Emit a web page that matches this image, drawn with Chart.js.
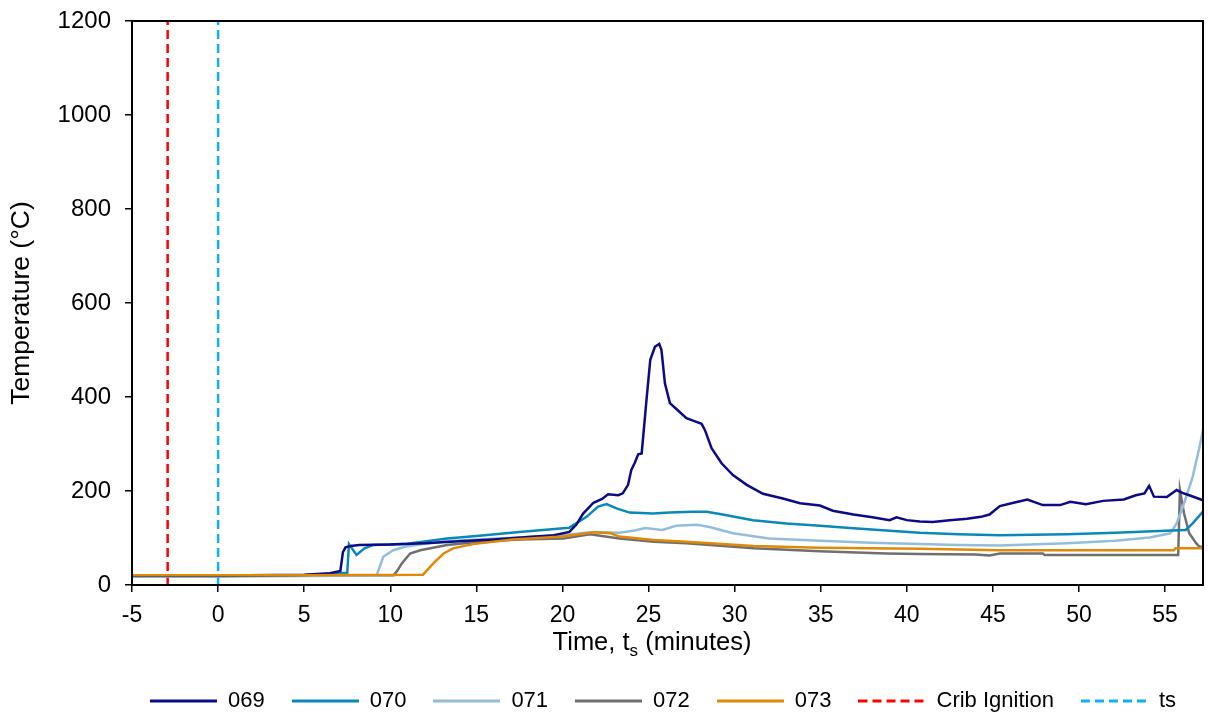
<!DOCTYPE html>
<html lang="en">
<head>
<meta charset="UTF-8">
<title>Temperature vs Time</title>
<script src="https://cdn.jsdelivr.net/npm/chart.js"></script>
<style>
    html, body { margin: 0; padding: 0; background: #fff; }
    #wrap { width: 1208px; height: 717px; }
</style>
</head>
<body>
<div id="wrap"><canvas id="temp-chart"></canvas></div>
<script>
    // [time (min), temperature (°C)], one list per thermocouple
    const tc069 = [[-5,20],[0,20],[5,22],[6.5,25],[7.1,30],[7.25,70],[7.4,80],[7.7,83],[8.2,85],[10,86],[12,89],[14,93],[16,97],[18,102],[19.5,106],[20.4,113],[20.8,128],[21.2,152],[21.8,175],[22.3,183],[22.65,193],[23.24,191],[23.5,195],[23.81,213],[24.0,245],[24.2,260],[24.4,278],[24.6,280],[24.88,394],[25.1,479],[25.37,507],[25.62,513],[25.75,500],[25.95,429],[26.24,387],[26.63,374],[27.2,355],[27.7,348],[28.08,343],[28.27,330],[28.66,291],[29.24,259],[29.9,234],[30.7,213],[31.65,194],[32.8,184],[33.8,174],[34.95,169],[35.7,158],[36.9,150],[38.0,144],[39.0,138],[39.4,144],[40.0,138],[40.75,135],[41.5,134],[42.5,138],[43.5,141],[44.3,145],[44.8,150],[45.4,168],[46.2,175],[47.0,182],[47.9,170],[48.9,170],[49.5,177],[50.4,172],[51.4,179],[52.6,182],[53.3,191],[53.8,195],[54.07,211],[54.35,188],[55.1,187],[55.67,202],[56.0,196],[56.4,191],[57.0,183],[57.2,180]];
    const tc070 = [[-5,19],[0,19],[5,21],[6,23],[7.5,26],[7.6,87],[8.04,64],[8.5,78],[9,85],[11,88],[13.3,99],[15,104],[17.5,113],[20.05,121],[20.4,122],[21.4,145],[22.07,167],[22.56,172],[23.14,163],[23.9,154],[25.27,152],[26.24,154],[27.5,156],[28.37,156],[29.14,151],[31.07,138],[33.0,131],[34.95,126],[36.9,121],[38.8,116],[40.75,111],[43,108],[45.4,106],[49.3,108],[52.1,111],[55.4,116],[56.2,117],[56.6,131],[57.2,156]];
    const tc071 = [[-5,18],[0,18],[5,19],[9.2,20],[9.4,40],[9.59,60],[10.17,74],[10.9,82],[12,88],[13.3,93],[15,97],[17.5,101],[20,106],[21.8,113],[23.3,111],[24.2,116],[24.8,121],[25.8,117],[26.6,126],[27.8,128],[28.6,123],[29.9,110],[32.0,99],[34.95,94],[37.9,90],[40.75,87],[43,85],[45.4,84],[49.3,89],[52.1,94],[54.1,101],[55.3,110],[55.67,131],[56.1,174],[56.6,230],[57.0,294],[57.2,330]];
    const tc072 = [[-5,19],[0,19],[5,20],[10.2,21],[10.4,30],[10.67,46],[11.15,67],[11.74,74],[13.3,85],[15.2,92],[17.5,97],[20.05,99],[21.6,108],[23.3,99],[25.3,92],[27.2,89],[31.1,78],[34.95,72],[38.8,67],[40.75,66],[44,65],[44.8,63],[45.4,67],[47.9,67],[48.0,64],[55.76,64],[55.86,202],[56.1,152],[56.4,110],[56.8,89],[57.0,81],[57.2,82]];
    const tc073 = [[-5,21],[0,21],[5,21],[11.9,22],[12.5,46],[13.1,67],[13.65,78],[14.8,87],[17.1,97],[20.05,103],[21.8,112],[22.8,110],[23.3,103],[25.3,96],[27.2,92],[31.1,83],[34.95,79],[40.75,77],[45.4,74],[55.5,74],[55.6,78],[57.2,78]];

    const cribIgnitionTime = -2.93;
    const tsTime = 0;
    const seriesNames = ['069', '070', '071', '072', '073', 'Crib Ignition', 'ts'];
    const xTicks = [-5, 0, 5, 10, 15, 20, 25, 30, 35, 40, 45, 50, 55];
    const yTicks = [0, 200, 400, 600, 800, 1000, 1200];

    const FONT = '"Liberation Sans", Arial, sans-serif';
    Chart.defaults.font.family = FONT;
    Chart.defaults.color = '#000';

    const SWATCH_W = 67;

    function makeLine(label, pts, color, order) {
        return {
            label: label,
            data: pts.map(p => ({ x: p[0], y: p[1] })),
            borderColor: color,
            backgroundColor: color,
            borderWidth: 2.5,
            pointRadius: 0,
            tension: 0,
            order: order
        };
    }

    function makeMarker(label, t, color, order) {
        return {
            label: label,
            data: [{ x: t, y: yTicks[0] }, { x: t, y: yTicks[yTicks.length - 1] }],
            borderColor: color,
            backgroundColor: color,
            borderWidth: 2.5,
            borderDash: [9, 5],
            pointRadius: 0,
            order: order
        };
    }

    // little canvas used as legend symbol, so dashes show up in the legend too
    function makeSwatch(color, dash) {
        const c = document.createElement('canvas');
        c.width = SWATCH_W;
        c.height = 6;
        const g = c.getContext('2d');
        g.strokeStyle = color;
        g.lineWidth = 3;
        g.setLineDash(dash || []);
        g.beginPath();
        g.moveTo(0, 3);
        g.lineTo(SWATCH_W, 3);
        g.stroke();
        return c;
    }

    // black frame around the plot area
    const plotFrame = {
        id: 'plotFrame',
        afterDatasetsDraw(chart) {
            const a = chart.chartArea;
            const ctx = chart.ctx;
            ctx.save();
            ctx.strokeStyle = '#000';
            ctx.lineWidth = 2;
            ctx.strokeRect(a.left, a.top, a.right - a.left, a.bottom - a.top);
            ctx.restore();
        }
    };

    // x title needs a subscript, so it is drawn by hand
    const xTitle = {
        id: 'xTitle',
        afterDraw(chart) {
            const ctx = chart.ctx;
            const big = '25.5px ' + FONT, small = '17px ' + FONT;
            const p1 = 'Time, t', p2 = 's', p3 = ' (minutes)';
            ctx.save();
            ctx.fillStyle = '#000';
            ctx.textBaseline = 'alphabetic';
            ctx.font = big;
            const w1 = ctx.measureText(p1).width, w3 = ctx.measureText(p3).width;
            ctx.font = small;
            const w2 = ctx.measureText(p2).width;
            let x = 652 - (w1 + w2 + w3) / 2;
            const y = chart.chartArea.bottom + 65;
            ctx.font = big; ctx.fillText(p1, x, y); x += w1;
            ctx.font = small; ctx.fillText(p2, x, y + 6); x += w2;
            ctx.font = big; ctx.fillText(p3, x, y);
            ctx.restore();
        }
    };

    new Chart(document.getElementById('temp-chart'), {
        type: 'line',
        data: {
            datasets: [
                makeLine(seriesNames[0], tc069, '#0b0b85', 1),
                makeLine(seriesNames[1], tc070, '#0a89b8', 2),
                makeLine(seriesNames[2], tc071, '#93bddb', 3),
                makeLine(seriesNames[3], tc072, '#6f6f6f', 4),
                makeLine(seriesNames[4], tc073, '#df8a07', 0),
                makeMarker(seriesNames[5], cribIgnitionTime, '#ff0000', 5),
                makeMarker(seriesNames[6], tsTime, '#10b0ee', 6)
            ]
        },
        options: {
            responsive: true,
            maintainAspectRatio: false,
            animation: false,
            layout: { padding: { top: 21, right: 5, left: 0, bottom: -5 } },
            plugins: {
                tooltip: { enabled: false },
                legend: {
                    position: 'bottom',
                    align: 'end',
                    labels: {
                        usePointStyle: true,
                        pointStyleWidth: SWATCH_W,
                        padding: 27,
                        color: '#000',
                        font: { size: 22 },
                        sort: (a, b) => a.datasetIndex - b.datasetIndex,
                        generateLabels: chart => {
                            const items = Chart.defaults.plugins.legend.labels.generateLabels(chart);
                            items.forEach(it => {
                                const ds = chart.data.datasets[it.datasetIndex];
                                it.pointStyle = makeSwatch(ds.borderColor, ds.borderDash);
                            });
                            return items;
                        }
                    }
                }
            },
            scales: {
                x: {
                    type: 'linear',
                    min: -5,
                    max: 57.2,
                    afterBuildTicks: s => { s.ticks = xTicks.map(v => ({ value: v })); },
                    afterFit: s => { s.height = 78; s.paddingLeft = 0; s.paddingRight = 0; },
                    grid: { drawOnChartArea: false, tickLength: 7, color: '#000', lineWidth: 1.5 },
                    border: { color: '#000', width: 2 },
                    ticks: { font: { size: 23 }, padding: 10, maxRotation: 0, autoSkip: false, callback: v => String(v) }
                },
                y: {
                    min: 0,
                    max: 1200,
                    afterBuildTicks: s => { s.ticks = yTicks.map(v => ({ value: v })); },
                    afterFit: s => { s.width = 132; s.paddingTop = 0; s.paddingBottom = 0; },
                    title: { display: true, text: 'Temperature (°C)', font: { size: 26.5 }, padding: { top: 6, bottom: 0 } },
                    grid: { drawOnChartArea: false, tickLength: 7, color: '#000', lineWidth: 1.5 },
                    border: { color: '#000', width: 2 },
                    ticks: { font: { size: 24 }, padding: 14, callback: v => String(v) }
                }
            }
        },
        plugins: [plotFrame, xTitle]
    });
</script>
</body>
</html>
